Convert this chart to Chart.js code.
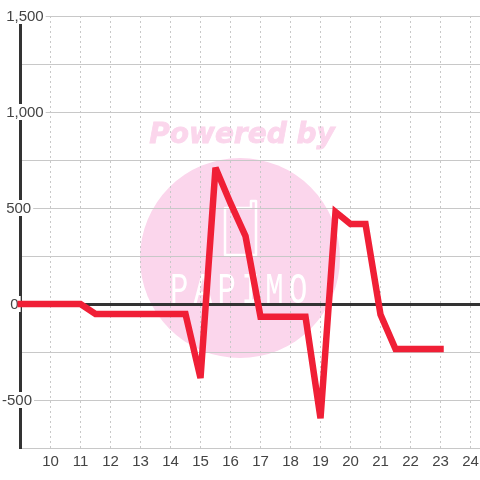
<!DOCTYPE html>
<html>
<head>
<meta charset="utf-8">
<style>
    html, body { margin: 0; padding: 0; background: #ffffff; }
    #wrap { width: 480px; height: 480px; }
</style>
<script src="https://cdn.jsdelivr.net/npm/chart.js@4/dist/chart.umd.min.js"></script>
</head>
<body>
<div id="wrap"><canvas id="chart"></canvas></div>
<script>
const hours = [8.5, 9, 9.5, 10, 10.5, 11, 11.5, 12, 12.5, 13, 13.5, 14, 14.5, 15, 15.5, 16, 16.5, 17, 17.5, 18, 18.5, 19, 19.5, 20, 20.5, 21, 21.5, 22, 22.5, 23];
const values = [0, 0, 0, 0, 0, 0, -52, -52, -52, -52, -52, -52, -52, -385, 710, 525, 354, -66, -66, -66, -66, -595, 480, 417, 417, -55, -235, -235, -235, -235];
const yTickValues = [1500, 1000, 500, 0, -500];
const yTickLabels = [" 1,500", " 1,000", " 500", "  0", "-500"];

/* ================= WATERMARK ================= */
const watermark = {
    id: "watermark",
    beforeDraw(chart) {
        const ctx = chart.ctx;
        ctx.save();
        ctx.fillStyle = "#fbd6ec";
        ctx.strokeStyle = "#fbd6ec";
        ctx.beginPath();
        ctx.arc(240, 258, 100, 0, Math.PI * 2);
        ctx.fill();

        ctx.font = "italic bold 28px 'DejaVu Sans'";
        ctx.textAlign = "center";
        ctx.textBaseline = "middle";
        ctx.lineWidth = 0.8;
        ctx.fillText("Powered by", 242, 136);
        ctx.strokeText("Powered by", 242, 136);

        // phone outline
        ctx.strokeStyle = "#ffffff";
        ctx.lineWidth = 2.5;
        ctx.lineJoin = "round";
        ctx.beginPath();
        ctx.moveTo(225, 208);
        ctx.lineTo(225, 255);
        ctx.lineTo(256, 255);
        ctx.lineTo(256, 201);
        ctx.lineTo(251, 201);
        ctx.lineTo(251, 208);
        ctx.closePath();
        ctx.stroke();

        // logo name
        ctx.fillStyle = "#ffffff";
        ctx.textAlign = "left";
        ctx.textBaseline = "alphabetic";
        ctx.font = "45px 'Liberation Mono'";
        ctx.letterSpacing = "8px";
        ctx.translate(170, 303);
        ctx.scale(0.68, 1);
        ctx.fillText("PAPIMO", 0, 0);
        ctx.restore();
    },
    beforeDatasetsDraw(chart) {
        chart.ctx.miterLimit = 4;
    }
};

/* ================= CHART ================= */
new Chart(document.getElementById("chart"), {
    type: "line",
    data: {
        datasets: [{
            data: hours.map((h, i) => ({ x: h, y: values[i] })),
            borderColor: "#f01f36",
            borderWidth: 6.5,
            borderCapStyle: "square",
            borderJoinStyle: "miter",
            pointRadius: 0,
            tension: 0,
            fill: false,
            clip: { left: 3, right: 0, top: 0, bottom: 0 }
        }]
    },
    plugins: [watermark],
    options: {
        responsive: true,
        maintainAspectRatio: false,
        animation: false,
        layout: {
            autoPadding: false,
            padding: { top: 16, right: -3, bottom: 0, left: 0 }
        },
        plugins: {
            legend: { display: false },
            tooltip: { enabled: false }
        },
        scales: {
            x: {
                type: "linear",
                bounds: "data",
                min: 9,
                max: 9 + 459.5 / 30,
                afterFit(scale) { scale.height = 32; scale.paddingLeft = 0; scale.paddingRight = 0; },
                border: { display: false, dash: [2, 3] },
                grid: {
                    color: ctx => ctx.tick.value === 9 ? "rgba(0,0,0,0)" : "#c8c8c8",
                    drawTicks: false
                },
                ticks: {
                    stepSize: 1,
                    autoSkip: false,
                    maxRotation: 0,
                    includeBounds: false,
                    padding: 5,
                    color: "#444444",
                    font: { family: "'Liberation Sans'", size: 15 },
                    callback: value => value === 9 ? "" : String(value)
                }
            },
            y: {
                min: -750,
                max: 1500,
                afterFit(scale) { scale.width = 20.5; },
                border: { display: true, color: "#333333", width: 3 },
                grid: {
                    color: ctx => ctx.tick.value === 0 ? "#333333" : "#c8c8c8",
                    lineWidth: ctx => ctx.tick.value === 0 ? 3 : 1,
                    drawTicks: false
                },
                ticks: {
                    stepSize: 250,
                    autoSkip: false,
                    mirror: true,
                    crossAlign: "near",
                    padding: -18.5,
                    labelOffset: 1,
                    color: "#444444",
                    font: { family: "'Liberation Sans'", size: 15 },
                    showLabelBackdrop: ctx => yTickValues.includes(ctx.tick.value),
                    backdropColor: "#ffffff",
                    backdropPadding: { top: 0, bottom: -2, left: 0, right: 2 },
                    callback: value => {
                        const i = yTickValues.indexOf(value);
                        return i === -1 ? "" : yTickLabels[i];
                    }
                }
            }
        }
    }
});
</script>
</body>
</html>
